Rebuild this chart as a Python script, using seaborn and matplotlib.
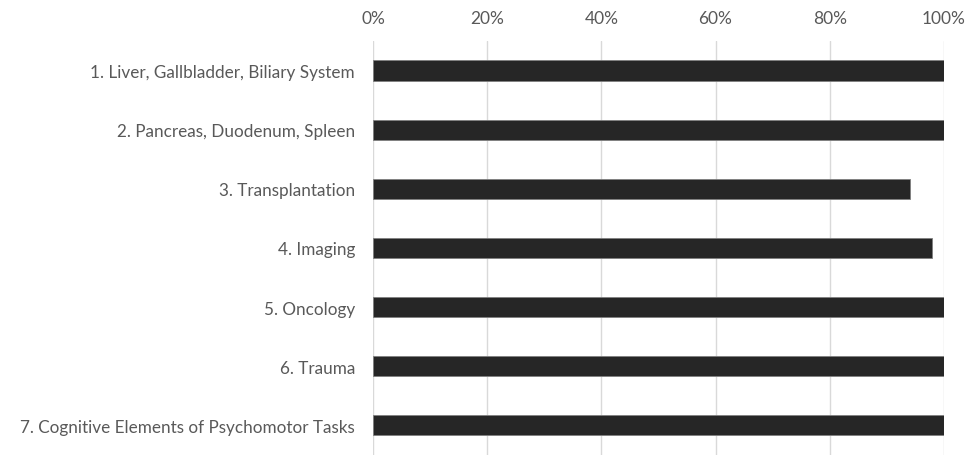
import matplotlib
matplotlib.use("Agg")
import matplotlib.pyplot as plt
import seaborn as sns
import pandas as pd
from matplotlib.ticker import FuncFormatter

categories = [
    "1. Liver, Gallbladder, Biliary System",
    "2. Pancreas, Duodenum, Spleen",
    "3. Transplantation",
    "4. Imaging",
    "5. Oncology",
    "6. Trauma",
    "7. Cognitive Elements of Psychomotor Tasks",
]
values = [1.00, 1.00, 0.94, 0.98, 1.00, 1.00, 1.00]
xticks = [0, 0.2, 0.4, 0.6, 0.8, 1.0]

df = pd.DataFrame({"category": categories, "value": values})

sns.set_theme(style="white")
plt.rcParams["font.family"] = ["Lato", "DejaVu Sans"]

fig = plt.figure(figsize=(9.74, 4.56), dpi=100)
ax = fig.add_axes([0.383, 0.0, 0.586, 0.908])

sns.barplot(data=df, x="value", y="category", ax=ax, color="#262626",
            width=0.34, edgecolor="#7f7f7f", linewidth=0.6, zorder=3)

ax.set_xlim(0, 1.0)
ax.set_xticks(xticks)
ax.xaxis.set_major_formatter(FuncFormatter(lambda v, p: f"{v*100:.0f}%"))
ax.xaxis.tick_top()
ax.xaxis.set_label_position("top")
ax.grid(axis="x", color="#d9d9d9", linewidth=1.0, zorder=0)
ax.set_xlabel("")
ax.set_ylabel("")
for s in ax.spines.values():
    s.set_visible(False)
ax.tick_params(axis="x", colors="#595959", labelsize=12.5, length=0, pad=11)
ax.tick_params(axis="y", colors="#595959", labelsize=12.3, length=0, pad=13)

fig.savefig("out.png", dpi=100)
